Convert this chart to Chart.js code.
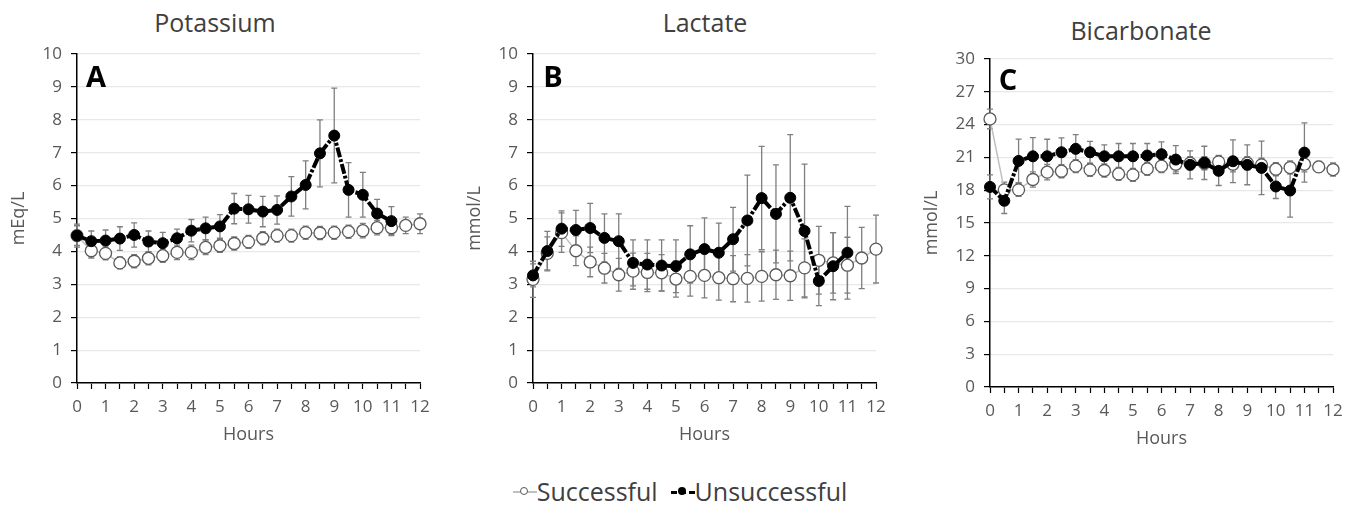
<!DOCTYPE html>
<html>
<head>
<meta charset="utf-8">
<script src="https://cdn.jsdelivr.net/npm/chart.js@4.4.0/dist/chart.umd.min.js"></script>
<style>
  body { margin: 0; background: #fff; width: 1360px; height: 510px; position: relative; overflow: hidden; font-family: 'Open Sans', sans-serif; }
  .panel { position: absolute; }
  .title { position: absolute; color: #404040; font-size: 25px; transform: translate(-50%, -50%); white-space: nowrap; }
  .letter { position: absolute; font-weight: bold; font-size: 29px; color: #000; transform: translate(-50%, -50%); }
  #legend { position: absolute; left: 0; top: 474px; width: 1360px; text-align: center; font-size: 25px; color: #404040; white-space: nowrap; }
  .mk { display: inline-block; position: relative; width: 24px; height: 14px; vertical-align: middle; margin-top: -4px; }
  .mk .ln { position: absolute; left: 0; right: 0; top: 6px; }
  .mk .dot { position: absolute; left: 7px; top: 2px; width: 8px; height: 8px; border-radius: 50%; box-sizing: border-box; }
</style>
</head>
<body>

<div class="title" style="left:215px; top:22px;">Potassium</div>
<div class="title" style="left:705px; top:22px;">Lactate</div>
<div class="title" style="left:1141px; top:30px;">Bicarbonate</div>

<div class="panel" style="left:0px; top:0px;"><canvas id="chartA" width="440" height="455"></canvas></div>
<div class="panel" style="left:456px; top:0px;"><canvas id="chartB" width="440" height="455"></canvas></div>
<div class="panel" style="left:913px; top:0px;"><canvas id="chartC" width="440" height="459"></canvas></div>

<div class="letter" style="left:96px; top:75px;">A</div>
<div class="letter" style="left:553px; top:75px;">B</div>
<div class="letter" style="left:1008px; top:78px;">C</div>

<div id="legend">
  <span class="mk"><span class="ln" style="border-top:2px solid #bfbfbf;"></span><span class="dot" style="background:#fff;border:1.3px solid #595959;"></span></span>Successful&nbsp;
  <span class="mk"><span class="ln" style="border-top:3px dashed #000;"></span><span class="dot" style="background:#000;"></span></span>Unsuccessful
</div>

<script>
const hours = [0, 0.5, 1, 1.5, 2, 2.5, 3, 3.5, 4, 4.5, 5, 5.5, 6, 6.5, 7, 7.5, 8, 8.5, 9, 9.5, 10, 10.5, 11, 11.5, 12];

const potassiumSuccess = [4.48, 4.02, 3.94, 3.65, 3.70, 3.79, 3.87, 3.97, 3.97, 4.12, 4.17, 4.24, 4.29, 4.40, 4.48, 4.48, 4.57, 4.56, 4.57, 4.60, 4.63, 4.72, 4.72, 4.79, 4.84];
const potassiumSuccessSd = [0.30, 0.22, 0.20, 0.18, 0.20, 0.20, 0.20, 0.22, 0.22, 0.22, 0.20, 0.20, 0.20, 0.20, 0.20, 0.20, 0.20, 0.20, 0.20, 0.20, 0.22, 0.22, 0.20, 0.25, 0.30];
const potassiumFail = [4.48, 4.31, 4.33, 4.39, 4.50, 4.30, 4.25, 4.40, 4.63, 4.70, 4.76, 5.30, 5.28, 5.21, 5.26, 5.67, 6.02, 6.98, 7.52, 5.87, 5.72, 5.15, 4.92];
const potassiumFailSd = [0.35, 0.31, 0.32, 0.36, 0.37, 0.32, 0.33, 0.28, 0.34, 0.34, 0.36, 0.46, 0.42, 0.46, 0.43, 0.60, 0.73, 1.02, 1.44, 0.83, 0.68, 0.43, 0.44];

const lactateSuccess = [3.15, 3.94, 4.57, 4.02, 3.68, 3.49, 3.29, 3.40, 3.36, 3.35, 3.16, 3.24, 3.27, 3.20, 3.17, 3.18, 3.24, 3.29, 3.26, 3.50, 3.73, 3.65, 3.58, 3.80, 4.07];
const lactateSuccessSd = [0.55, 0.50, 0.60, 0.45, 0.45, 0.45, 0.50, 0.55, 0.58, 0.55, 0.55, 0.60, 0.68, 0.68, 0.70, 0.72, 0.75, 0.75, 0.75, 0.88, 1.03, 0.92, 0.85, 0.93, 1.03];
const lactateFail = [3.27, 4.01, 4.69, 4.65, 4.71, 4.41, 4.31, 3.65, 3.60, 3.57, 3.55, 3.91, 4.07, 3.96, 4.37, 4.94, 5.62, 5.14, 5.63, 4.62, 3.10, 3.55, 3.96];
const lactateFailSd = [0.35, 0.60, 0.54, 0.60, 0.75, 0.73, 0.83, 0.70, 0.75, 0.78, 0.80, 0.87, 0.95, 0.90, 0.97, 1.38, 1.57, 1.49, 1.92, 2.03, 0.75, 1.02, 1.41];

const bicarbSuccess = [24.52, 18.03, 18.03, 18.98, 19.65, 19.74, 20.20, 19.86, 19.80, 19.49, 19.40, 19.95, 20.20, 20.38, 20.47, 20.47, 20.59, 20.38, 20.47, 20.32, 19.92, 20.07, 20.38, 20.13, 19.89];
const bicarbSuccessSd = [0.9, 0.7, 0.6, 0.7, 0.7, 0.6, 0.6, 0.6, 0.6, 0.6, 0.6, 0.6, 0.6, 0.7, 0.6, 0.6, 0.6, 0.7, 0.6, 0.6, 0.6, 0.6, 0.7, 0.5, 0.6];
const bicarbFail = [18.30, 17.03, 20.68, 21.10, 21.10, 21.47, 21.78, 21.47, 21.10, 21.10, 21.10, 21.17, 21.29, 20.80, 20.32, 20.50, 19.77, 20.65, 20.32, 20.04, 18.34, 17.97, 21.44];
const bicarbFailSd = [1.1, 1.16, 2.0, 1.7, 1.56, 1.31, 1.31, 1.0, 1.04, 1.17, 1.17, 1.1, 1.13, 1.28, 1.28, 1.52, 1.34, 1.95, 1.82, 2.44, 1.1, 2.44, 2.71];

Chart.defaults.font.family = "'Open Sans', sans-serif";
Chart.defaults.color = '#595959';

// vertical error bars with small caps, drawn under the markers
const errorBars = {
    id: 'errorBars',
    beforeDatasetsDraw(chart) {
        const ctx = chart.ctx;
        const yScale = chart.scales.y;
        chart.data.datasets.forEach((ds, i) => {
            const meta = chart.getDatasetMeta(i);
            ctx.save();
            ctx.strokeStyle = '#7f7f7f';
            ctx.lineWidth = 1.3;
            meta.data.forEach((pt, j) => {
                const v = ds.data[j].y;
                const e = ds.errors[j];
                const top = yScale.getPixelForValue(v + e);
                const bot = yScale.getPixelForValue(v - e);
                ctx.beginPath();
                ctx.moveTo(pt.x, top);
                ctx.lineTo(pt.x, bot);
                ctx.moveTo(pt.x - 3, top);
                ctx.lineTo(pt.x + 3, top);
                ctx.moveTo(pt.x - 3, bot);
                ctx.lineTo(pt.x + 3, bot);
                ctx.stroke();
            });
            ctx.restore();
        });
    }
};

const toPoints = (vals) => vals.map((v, i) => ({ x: hours[i], y: v }));

const makePanel = (id, unit, yMax, yStep, topPad, succ, succSd, fail, failSd) => {
    new Chart(document.getElementById(id), {
        type: 'line',
        data: {
            datasets: [
                {
                    label: 'Successful',
                    data: toPoints(succ),
                    errors: succSd,
                    borderColor: '#bfbfbf',
                    borderWidth: 1.5,
                    pointRadius: 6,
                    pointBackgroundColor: '#fff',
                    pointBorderColor: '#595959',
                    pointBorderWidth: 1.3,
                    clip: false,
                    order: 2
                },
                {
                    label: 'Unsuccessful',
                    data: toPoints(fail),
                    errors: failSd,
                    borderColor: '#000',
                    borderWidth: 4,
                    borderDash: [10, 2, 3, 2],
                    pointRadius: 5.5,
                    pointBackgroundColor: '#000',
                    pointBorderColor: '#000',
                    pointBorderWidth: 1,
                    clip: false,
                    order: 1
                }
            ]
        },
        options: {
            responsive: false,
            animation: false,
            layout: { padding: { top: topPad, right: 20, bottom: 7, left: 0 } },
            plugins: { legend: { display: false }, tooltip: { enabled: false } },
            scales: {
                x: {
                    type: 'linear',
                    min: 0,
                    max: 12,
                    afterFit: (s) => { s.height = 65; },
                    ticks: {
                        stepSize: 0.5,
                        autoSkip: false,
                        maxRotation: 0,
                        font: { size: 17 },
                        padding: 8,
                        callback: (v) => Number.isInteger(v) ? v : ''
                    },
                    grid: { drawOnChartArea: false, drawTicks: true, tickLength: 6, tickColor: '#000', tickWidth: 1.2 },
                    border: { color: '#000', width: 1.5 },
                    title: { display: true, text: 'Hours', font: { size: 18 }, padding: { top: 0, bottom: 2 } }
                },
                y: {
                    min: 0,
                    max: yMax,
                    afterFit: (s) => { s.width = 77; },
                    ticks: { stepSize: yStep, font: { size: 17 }, padding: 9 },
                    grid: { color: '#e8e8e8', lineWidth: 1.2, tickColor: '#000', tickLength: 6 },
                    border: { color: '#000', width: 1.5 },
                    title: { display: true, text: unit, font: { size: 18 }, padding: { top: 8, bottom: 0 } }
                }
            }
        },
        plugins: [errorBars]
    });
};

makePanel('chartA', 'mEq/L', 10, 1, 54, potassiumSuccess, potassiumSuccessSd, potassiumFail, potassiumFailSd);
makePanel('chartB', 'mmol/L', 10, 1, 54, lactateSuccess, lactateSuccessSd, lactateFail, lactateFailSd);
makePanel('chartC', 'mmol/L', 30, 3, 59, bicarbSuccess, bicarbSuccessSd, bicarbFail, bicarbFailSd);
</script>
</body>
</html>
